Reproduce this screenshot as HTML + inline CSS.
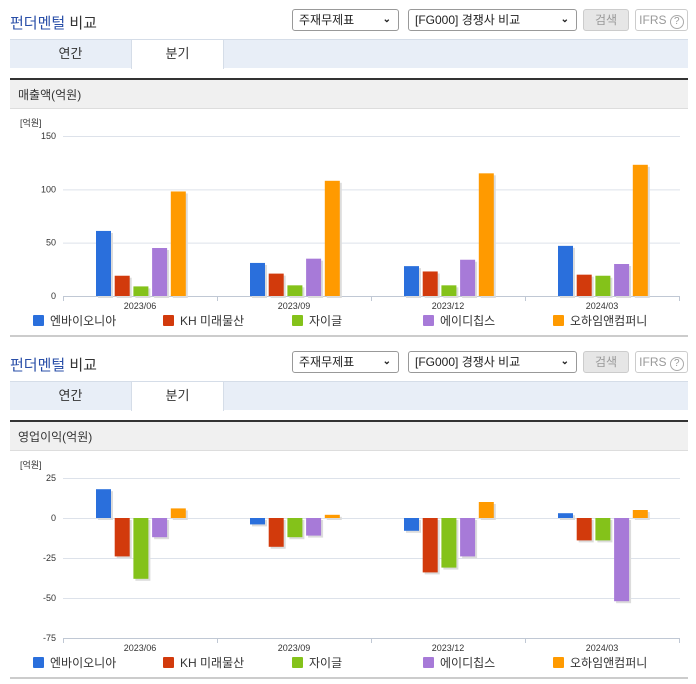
<!DOCTYPE html>
<html><head><meta charset="utf-8">
<style>
body{margin:0;width:696px;height:684px;background:#fff;font-family:"Liberation Sans","Noto Sans CJK KR",sans-serif;position:relative;overflow:hidden}
.sec{position:absolute;left:0;width:696px;height:342px}
.abs{position:absolute}
.title{left:10px;top:12px;font-size:15px;font-weight:normal;color:#333}
.title b{color:#2a4fa8;font-weight:normal}
.sel{top:9px;height:22px;border:1px solid #999;border-radius:3px;box-sizing:border-box;font-size:12px;color:#222;line-height:20px;padding-left:6px;background:#fff}
.sel i{position:absolute;right:7px;top:0;font-style:normal;font-size:10px;font-weight:bold}
.btn{top:9px;height:22px;border:1px solid #ccc;border-radius:3px;box-sizing:border-box;font-size:12px;line-height:20px;text-align:center;color:#999}
.tabs{left:10px;top:39px;width:678px;height:28px;background:#e8eef7;border-top:1px solid #d5dde8}
.tab{top:0;height:28px;font-size:13px;line-height:28px;text-align:center;color:#333}
.hdr{left:10px;top:78px;width:678px;height:31px;background:#f0f0f0;border-top:2px solid #333;border-bottom:1px solid #ddd;font-size:12px;line-height:30px;color:#333;box-sizing:border-box;padding-left:8px}
.foot{left:10px;top:335px;width:678px;height:2px;background:#ccc}
</style></head><body>
<script>
const categories=["2023/06","2023/09","2023/12","2024/03"];
const companies=["엔바이오니아","KH 미래물산","자이글","에이디칩스","오하임앤컴퍼니"];
const colors=["#2a6fdc","#d23a0c","#84c21a","#a77ad8","#ff9a00"];
const salesA=[61,31,28,47];
const salesB=[19,21,23,20];
const salesC=[9,10,10,19];
const salesD=[45,35,34,30];
const salesE=[98,108,115,123];
const salesTicks=[0,50,100,150];
const opA=[18,-4,-8,3];
const opB=[-24,-18,-34,-14];
const opC=[-38,-12,-31,-14];
const opD=[-12,-11,-24,-52];
const opE=[6,2,10,5];
const opTicks=[-75,-50,-25,0,25];
const legendX=[33,163,292,423,553];

function section(top,label,series,ticks,yZeroPx,pxPer,minV,maxV){
  const s=document.createElement('div');s.className='sec';s.style.top=top+'px';
  
  
  s.innerHTML=`<div class="abs title"><b>펀더멘털</b> 비교</div>
<div class="abs sel" style="left:292px;width:107px">주재무제표<i>&#8964;</i></div>
<div class="abs sel" style="left:408px;width:169px">[FG000] 경쟁사 비교<i>&#8964;</i></div>
<div class="abs btn" style="left:583px;width:46px;background:#e6e6e6">검색</div>
<div class="abs btn" style="left:635px;width:53px;background:#fff">IFRS <span style="border:1px solid #aaa;border-radius:50%;display:inline-block;width:12px;height:12px;line-height:12px;font-size:10px">?</span></div>
<div class="abs tabs">
<div class="abs tab" style="left:0;width:121px">연간</div>
<div class="abs tab" style="left:121px;width:91px;background:#fff;border-left:1px solid #d5dde8;border-right:1px solid #d5dde8;height:29px">분기</div></div>
<div class="abs hdr">${label}</div>
<div class="abs foot"></div>`;
  const NS='http://www.w3.org/2000/svg';
  const svg=document.createElementNS(NS,'svg');
  svg.setAttribute('width','696');svg.setAttribute('height','342');
  svg.style.position='absolute';svg.style.left='0';svg.style.top='0';
  
  
  const y=v=>yZeroPx-v*pxPer;
  const x0=63,cw=154;
  function el(t,a){const e=document.createElementNS(NS,t);for(const k in a)e.setAttribute(k,a[k]);svg.appendChild(e);return e;}
  const u=el('text',{x:20,y:126,'font-size':9,fill:'#333'});u.textContent='[억원]';
  
  
  ticks.forEach(t=>{
    const g=el('line',{x1:63,x2:680,y1:y(t)+.5,y2:y(t)+.5,stroke:'#dde2ea'});
    
    
    const tx=el('text',{x:56,y:y(t)+3,'font-size':9,fill:'#333','text-anchor':'end'});tx.textContent=t;
    
    
  });
  const axY=y(minV);
  el('line',{x1:63,x2:680,y1:axY+.5,y2:axY+.5,stroke:'#c0c8d4'});
  for(let i=0;i<=4;i++)el('line',{x1:x0+i*cw+.5,x2:x0+i*cw+.5,y1:axY,y2:axY+5,stroke:'#c0c8d4'});
  categories.forEach((c,i)=>{
    const t=el('text',{x:x0+cw*i+cw/2,y:axY+13,'font-size':9,fill:'#333','text-anchor':'middle'});t.textContent=c;
    
    
    series.forEach((arr,k)=>{
      const v=arr[i];const bx=x0+cw*i+33+k*18.7;
      const top=Math.min(y(v),y(0)),h=Math.abs(y(v)-y(0));
      el('rect',{x:bx+2,y:top+2,width:15,height:h,fill:'#dcdcdc'});
      const r=el('rect',{x:bx,y:top,width:15,height:h,fill:colors[k]});
      
      
    });
  });
  companies.forEach((n,k)=>{
    const r=el('rect',{x:legendX[k],y:axY+19,width:11,height:11,fill:colors[k],rx:1});
    
    
    const t=el('text',{x:legendX[k]+17,y:axY+29,'font-size':12,fill:'#333'});t.textContent=n;
    
    
  });
  s.appendChild(svg);
  document.body.appendChild(s);
}
section(0,'매출액(억원)',[salesA,salesB,salesC,salesD,salesE],salesTicks,296,160/150,0,150);
section(342,'영업이익(억원)',[opA,opB,opC,opD,opE],opTicks,176,40/25,-75,25);
</script>
</body></html>
